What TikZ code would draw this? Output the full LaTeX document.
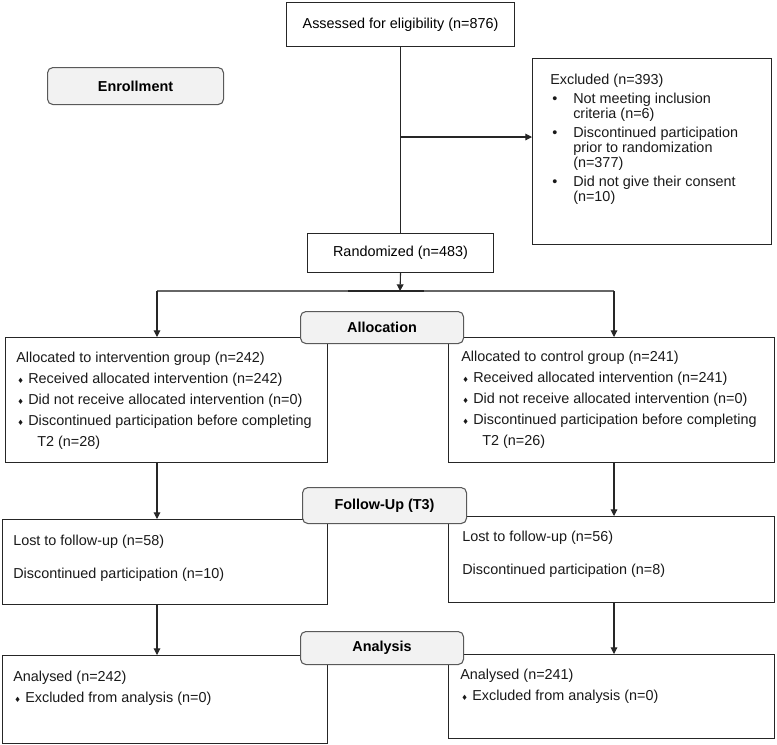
\documentclass[tikz,border=0pt]{standalone}
\usepackage{fontspec}
\setmainfont{Liberation Sans}
\newfontfamily\symfont{DejaVu Sans}
\usetikzlibrary{arrows.meta,positioning}
\newdimen\pxu \pxu=0.75pt
\newcommand{\dia}{\makebox[12\pxu][l]{\hspace{1\pxu}{\symfont\fontsize{5.5}{5.5}\selectfont ♦}}}
\newcommand{\bul}{\makebox[23\pxu][l]{\hspace{2\pxu}•}}

\tikzset{
  box/.style={draw=black!85, line width=0.8pt, anchor=north west, inner sep=0pt},
  stage/.style={draw=black!65, fill=black!5, rounded corners=4pt, line width=0.8pt,
    anchor=north west, inner sep=0pt, font=\bfseries\fontsize{10.8}{13}\selectfont},
  txt/.style={anchor=north west, inner sep=0pt, align=left, text=black!90,
    font=\fontsize{10.8}{15.75}\selectfont},
  line/.style={line width=0.8pt, draw=black!85},
  arr/.style={line, -{Triangle[length=5pt,width=5pt]}},
}

\begin{document}
\begin{tikzpicture}[x=0.75pt, y=-0.75pt, font=\fontsize{10.8}{13}\selectfont]
	\useasboundingbox (0,0) rectangle (777,744);
	
	% enrollment
	\node [box, minimum width=228\pxu, minimum height=44\pxu] (assess) at (286,2) {Assessed for eligibility (n=876)};
	\node [box, minimum width=239\pxu, minimum height=186\pxu] (excl) at (532,58) {};
	\node [box, minimum width=186\pxu, minimum height=39\pxu] (rand) at (307,233) {Randomized (n=483)};
	\node [txt, font=\fontsize{10.8}{11.25}\selectfont] (excl-t) at (550,74) {Excluded (n=393)\\[3pt]
		\bul Not meeting inclusion\\
		\hspace*{23\pxu}criteria (n=6)\\[3pt]
		\bul Discontinued participation\\
		\hspace*{23\pxu}prior to randomization\\
		\hspace*{23\pxu}(n=377)\\[3pt]
		\bul Did not give their consent\\
		\hspace*{23\pxu}(n=10)};
	
	% allocation
	\node [box, minimum width=322\pxu, minimum height=125\pxu] (allocL) at (5,337) {};
	\node [box, minimum width=326\pxu, minimum height=125\pxu] (allocR) at (448,337) {};
	\node [txt] (allocL-t) at (16,352) {Allocated to intervention group (n=242)\\
		\dia Received allocated intervention (n=242)\\
		\dia Did not receive allocated intervention (n=0)\\
		\dia Discontinued participation before completing\\
		\hspace*{21\pxu}T2 (n=28)};
	\node [txt] (allocR-t) at (461,351) {Allocated to control group (n=241)\\
		\dia Received allocated intervention (n=241)\\
		\dia Did not receive allocated intervention (n=0)\\
		\dia Discontinued participation before completing\\
		\hspace*{21\pxu}T2 (n=26)};
	
	% follow-up
	\node [box, minimum width=325\pxu, minimum height=85\pxu] (fuL) at (2,519) {};
	\node [box, minimum width=326\pxu, minimum height=86\pxu] (fuR) at (448,516) {};
	\node [txt] (fuL-t) at (13,535) {Lost to follow-up (n=58)\\[9pt]
		Discontinued participation (n=10)};
	\node [txt] (fuR-t) at (462,531) {Lost to follow-up (n=56)\\[9pt]
		Discontinued participation (n=8)};
	
	% analysis
	\node [box, minimum width=325\pxu, minimum height=88\pxu] (anL) at (2,655) {};
	\node [box, minimum width=326\pxu, minimum height=84\pxu] (anR) at (448,654) {};
	\node [txt] (anL-t) at (13,671) {Analysed (n=242)\\
		\dia Excluded from analysis (n=0)};
	\node [txt] (anR-t) at (460,669) {Analysed (n=241)\\
		\dia Excluded from analysis (n=0)};
	
	% stage labels
	\node [stage, minimum width=176\pxu, minimum height=37\pxu] (enrol) at (47,67) {Enrollment};
	\node [stage, minimum width=163\pxu, minimum height=32\pxu] (allocation) at (300,311) {Allocation};
	\node [stage, minimum width=164\pxu, minimum height=36\pxu] (followup) at (302,487) {Follow-Up (T3)};
	\node [stage, minimum width=163\pxu, minimum height=33\pxu] (analysis) at (300,631) {Analysis};
	
	% connectors
	\coordinate (split) at (400,137);
	\coordinate (branch) at (400,291);
	\coordinate (branchL) at (157,291);
	\coordinate (branchR) at (614,291);
	\coordinate (darkL) at (348,291);
	\coordinate (darkR) at (424,291);
	
	\draw [line] (assess.south) -- (rand.north);
	\draw [arr] (split) -- (split -| excl.west);
	\draw [arr] (rand.south) -- (branch);
	\draw [line, draw=black!60] (branchL) -- (branchR);
	\draw [line, line width=1.3pt] (darkL) -- (darkR);
	\draw [arr] (branchL) -- (branchL |- allocL.north);
	\draw [arr] (branchR) -- (branchR |- allocR.north);
	\draw [arr] (allocL.south -| branchL) -- (branchL |- fuL.north);
	\draw [arr] (allocR.south -| branchR) -- (branchR |- fuR.north);
	\draw [arr] (fuL.south -| branchL) -- (branchL |- anL.north);
	\draw [arr] (fuR.south -| branchR) -- (branchR |- anR.north);
\end{tikzpicture}
\end{document}
